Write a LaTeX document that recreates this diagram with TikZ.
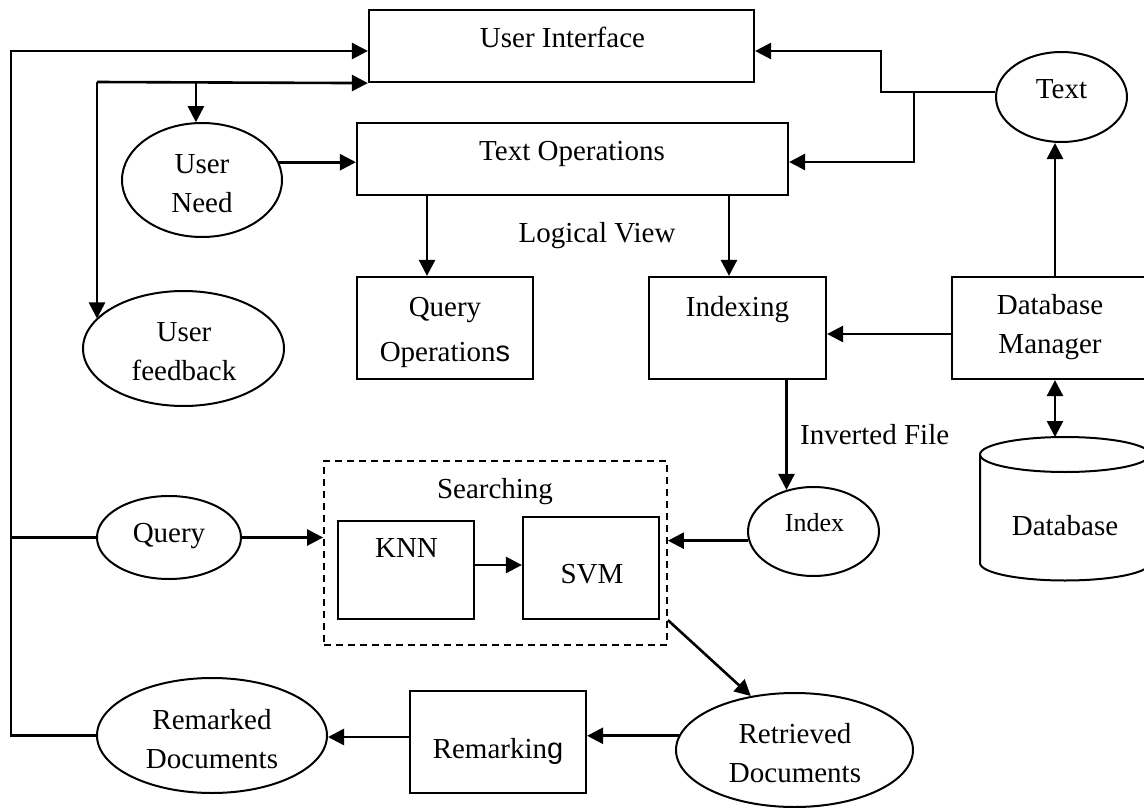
\documentclass[tikz,border=0pt]{standalone}
\usepackage{fontspec}
\setmainfont{Liberation Serif}
\newfontfamily\sansf{Liberation Sans}
\usetikzlibrary{shapes.geometric,arrows.meta}

\begin{document}
\begin{tikzpicture}[x=1pt,y=-1pt,
  box/.style={draw, line width=2.2pt, inner sep=0pt},
  oval/.style={draw, ellipse, line width=2pt, inner sep=0pt},
  grp/.style={draw, line width=1.8pt, dash pattern=on 7pt off 5pt, inner sep=0pt},
  wire/.style={line width=2.2pt},
  arr/.style={line width=2.6pt, -{Triangle[length=16pt,width=16pt]}},
  arrs/.style={line width=2.6pt, {Triangle[length=16pt,width=16pt]}-{Triangle[length=16pt,width=16pt]}},
  lbl/.style={anchor=base, align=center, inner sep=0pt, font=\fontsize{29}{39}\selectfont},
]
\useasboundingbox (0,0) rectangle (1144,808);

% ---- boxes ----
\node[box, minimum width=385, minimum height=72] (ui) at (561.5,46) {};
\node[box, minimum width=431, minimum height=72] (textop) at (572.5,159) {};
\node[box, minimum width=176, minimum height=102] (qop) at (445,328) {};
\node[box, minimum width=177, minimum height=102] (idx) at (737.5,328) {};
\node[box, minimum width=196, minimum height=102] (dbm) at (1050,328) {};
\node[grp, minimum width=343, minimum height=184] (srch) at (495.5,553) {};
\node[box, minimum width=136, minimum height=98] (knn) at (406,570) {};
\node[box, minimum width=136, minimum height=102] (svm) at (591,568) {};
\node[box, minimum width=176, minimum height=102] (rmk) at (498,742) {};

% ---- ovals ----
\node[oval, minimum width=160, minimum height=114] (need) at (202,180) {};
\node[oval, minimum width=201, minimum height=115] (fb) at (183.5,348.5) {};
\node[oval, minimum width=131, minimum height=90] (tx) at (1061.5,97) {};
\node[oval, minimum width=131, minimum height=89] (index) at (813.5,531.5) {};
\node[oval, minimum width=144, minimum height=83] (query) at (169,537.5) {};
\node[oval, minimum width=230, minimum height=115] (remd) at (212,735.5) {};
\node[oval, minimum width=237, minimum height=114] (retd) at (794.5,750) {};

% ---- database cylinder ----
\draw[line width=2pt] (980,454.5) arc[start angle=180, end angle=-180, x radius=85, y radius=17.5];
\draw[line width=2pt] (980,454.5) -- (980,563) arc[start angle=180, end angle=0, x radius=85, y radius=17.5] -- (1150,454.5);
\coordinate (dbtop) at (1055,437);

% ---- texts (multi-line texts sit on the baseline of their last line) ----
\node[lbl] (ui-t) at (562.5,48) {User Interface};
\node[lbl] (textop-t) at (572,160) {Text Operations};
\node[lbl] (need-t) at (202,212) {User\\Need};
\node[lbl] (fb-t) at (184,380) {User\\feedback};
\node[lbl] (lv-t) at (597,242) {Logical View};
\node[lbl, font=\fontsize{29}{45}\selectfont] (qop-t) at (445,361) {Query\\Operation{\sansf s}};
\node[lbl] (idx-t) at (737.5,316) {Indexing};
\node[lbl] (dbm-t) at (1050,353) {Database\\Manager};
\node[lbl] (tx-t) at (1061.5,99) {Text};
\node[lbl, anchor=base west] (inv-t) at (800,444) {Inverted File};
\node[lbl, font=\fontsize{26}{34}\selectfont] (index-t) at (814.5,531) {Index};
\node[lbl] (db-t) at (1065,535) {Database};
\node[lbl] (srch-t) at (495,498) {Searching};
\node[lbl] (knn-t) at (406.5,557) {KNN};
\node[lbl] (svm-t) at (592,583) {SVM};
\node[lbl] (query-t) at (169,542) {Query};
\node[lbl] (remd-t) at (212,768) {Remarked\\Documents};
\node[lbl] (rmk-t) at (498,758) {Remarkin{\sansf g}};
\node[lbl] (retd-t) at (795,782) {Retrieved\\Documents};

% ---- junctions ----
\coordinate (loopL) at (11,51);
\coordinate (fbk) at (97,82);
\coordinate (txbend) at (881,51);
\coordinate (txsplit) at (914,92);

% ---- connectors ----
% text source feeds the interface and the text operations
\draw[arr] ([yshift=5pt]tx.west) -| (txbend) -- (txbend -| ui.east);
\draw[arr] (txsplit) |- ([yshift=-3pt]textop.east);

% outer loop back to the interface
\draw[arr] (remd.west) -| (loopL) -- (loopL -| ui.west);
\draw[wire] (query.west) -- (query.west -| loopL);

% inner loop to user need and user feedback
\draw[arr] (fbk) -- (ui.south west);
\draw[arr] (fbk) -- (fbk |- fb.161.3);
\draw[arr] (need.96 |- fbk) -- (need.96);
\draw[arr] (need.13) -- (need.13 -| textop.west);

% logical view
\draw[arr] ([xshift=-18pt]qop.north |- textop.south) -- ([xshift=-18pt]qop.north);
\draw[arr] ([xshift=-8.5pt]idx.north |- textop.south) -- ([xshift=-8.5pt]idx.north);

% database side
\draw[arr] ([yshift=-6pt]dbm.west) -- ([yshift=-6pt]dbm.west -| idx.east);
\draw[arr] ([xshift=5pt]dbm.north) -- ([xshift=5pt]dbm.north |- tx.south);
\draw[arrs] ([xshift=5pt]dbm.south) -- (dbtop);

% inverted file and searching
\draw[arr] (index.123.1 |- idx.south) -- (index.123.1);
\draw[arr] (index.188.9) -- (index.188.9 -| srch.east);
\draw[arr] (query.east) -- (query.east -| srch.west);
\draw[arr] ([yshift=5pt]knn.east) -- ([yshift=5pt]knn.east -| svm.west);
\draw[arr] (srch.east |- svm.south) -- (retd.129.4);

% results
\draw[arr] (retd.173.6) -- (retd.173.6 -| rmk.east);
\draw[arr] ([yshift=5pt]rmk.west) -- ([yshift=5pt]rmk.west -| remd.east);
\end{tikzpicture}
\end{document}
